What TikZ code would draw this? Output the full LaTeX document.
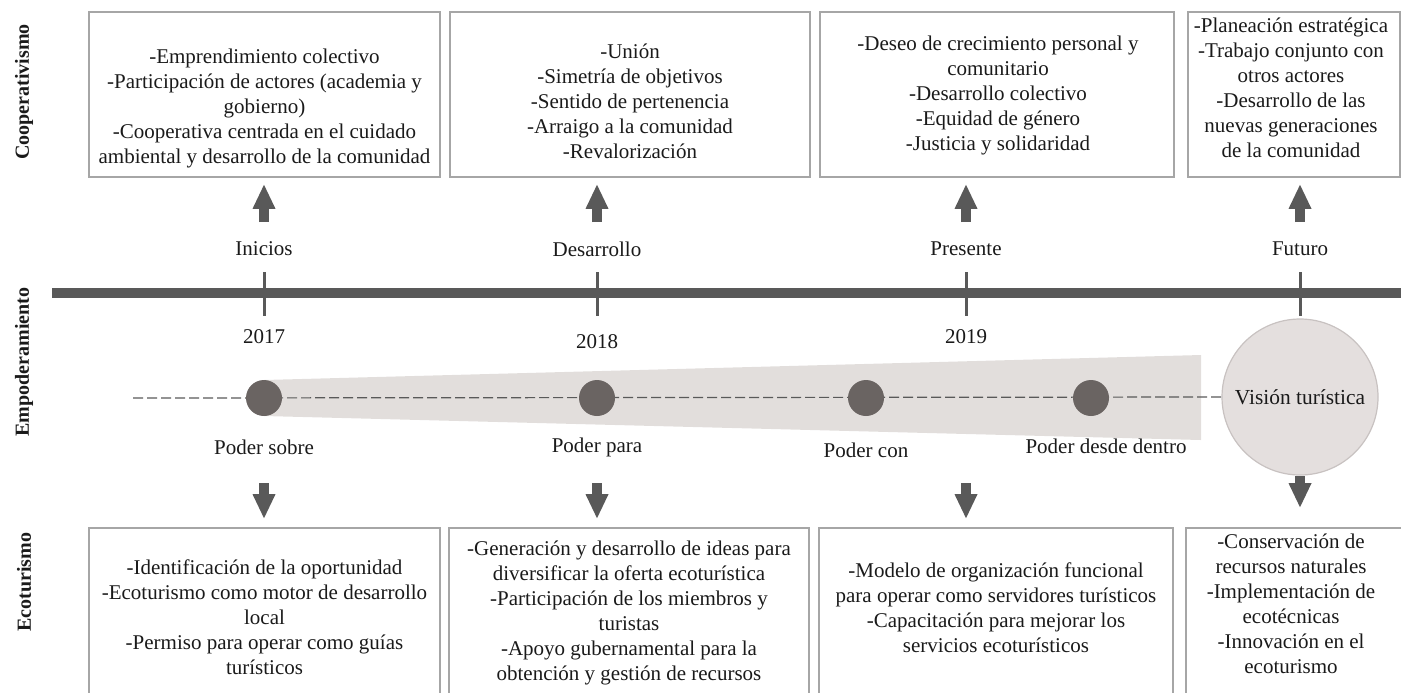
\documentclass[tikz,border=0pt]{standalone}
\usepackage{fontspec}
\setmainfont{Liberation Serif}
\usetikzlibrary{arrows.meta}

\definecolor{linegray}{HTML}{595959}
\definecolor{dotgray}{HTML}{6A6462}
\definecolor{boxgray}{HTML}{A6A6A6}
\definecolor{fanfill}{HTML}{E2DEDC}
\definecolor{visfill}{HTML}{E4DFDE}
\definecolor{visdraw}{HTML}{C8C2C1}
\definecolor{txtcol}{HTML}{1A1A1A}

\tikzset{
  cell/.style={draw=boxgray, line width=0.8pt, inner sep=0pt, minimum width=#1},
  topcell/.style={cell=#1, minimum height=82.5pt},
  lowcell/.style={cell=#1, minimum height=86pt},
  txt/.style={align=center, inner sep=0pt, text=txtcol, font=\fontsize{10.5}{12.5}\selectfont},
  rowlbl/.style={rotate=90, inner sep=0pt, text=txtcol, font=\fontsize{10}{12}\selectfont\bfseries},
  timeline/.style={draw=linegray, line width=5pt},
  tickmark/.style={draw=linegray, line width=1.5pt},
  blockarrow/.style={draw=linegray, line width=5pt, -{Triangle[width=11.5pt, length=12pt, line width=0pt]}},
  dashline/.style={draw=linegray, line width=0.6pt, dash pattern=on 5pt off 2pt},
  dot/.style={circle, fill=dotgray, minimum size=18pt, inner sep=0pt},
  vision/.style={circle, fill=visfill, draw=visdraw, line width=0.6pt, minimum size=78pt, inner sep=0pt,
    text=txtcol, font=\fontsize{10.7}{12.5}\selectfont}
}

\begin{document}
\begin{tikzpicture}[x=0.5pt, y=-0.5pt]
        \clip (0,0) rectangle (1401,692);

        % row titles
        \node[rowlbl] (lcoop) at (24,92) {Cooperativismo};
        \node[rowlbl] (lemp) at (24,362) {Empoderamiento};
        \node[rowlbl] (leco) at (24,582) {Ecoturismo};

        % Cooperativismo boxes
        \node[topcell=175.5pt] (c1) at (264.5,94.5) {};
        \node[topcell=180pt] (c2) at (630,94.5) {};
        \node[topcell=177pt] (c3) at (997,94.5) {};
        \node[topcell=106pt] (c4) at (1294,94.5) {};
        \node[txt] (c1t) at (264.5,108) {-Emprendimiento colectivo\\-Participación de actores (academia y\\gobierno)\\-Cooperativa centrada en el cuidado\\ambiental y desarrollo de la comunidad};
        \node[txt] (c2t) at (630,101.5) {-Unión\\-Simetría de objetivos\\-Sentido de pertenencia\\-Arraigo a la comunidad\\-Revalorización};
        \node[txt] (c3t) at (998,95.5) {-Deseo de crecimiento personal y\\comunitario\\-Desarrollo colectivo\\-Equidad de género\\-Justicia y solidaridad};
        \node[txt] (c4t) at (1291,87.5) {-Planeación estratégica\\-Trabajo conjunto con\\otros actores\\-Desarrollo de las\\nuevas generaciones\\de la comunidad};

        % timeline
        \coordinate (tl0) at (52,293);
        \coordinate (tl1) at (1401,293);
        \draw[timeline] (tl0) -- (tl1);
        \foreach \tx/\tn in {264/1,597/2,966/3,1300/4}
          \draw[tickmark] (\tx,272) coordinate (k\tn) -- (\tx,316);

        \node[txt] (inicios) at (264,249) {Inicios};
        \node[txt] (desarrollo) at (597,249) {Desarrollo};
        \node[txt] (presente) at (966,249) {Presente};
        \node[txt] (futuro) at (1300,249) {Futuro};
        \node[txt] (y2017) at (264,337) {2017};
        \node[txt] (y2018) at (597,342) {2018};
        \node[txt] (y2019) at (966,337) {2019};

        % arrows up to the boxes
        \foreach \ux/\ub in {264/c1,597/c2,966/c3,1300/c4}
          \draw[blockarrow, shorten >=3.5pt] (\ux,222) -- (\ux,222 |- \ub.south);

        % Empoderamiento
        \fill[fanfill] (264,380) -- (1201,355) -- (1201,440) -- (264,416) -- cycle;% widening band
        \node[vision] (vis) at (1300,397) {Visión turística};
        \coordinate (dstart) at (133,398);
        \draw[dashline] (dstart) -- (vis.west);
        \foreach \dx/\dn in {264/1,597/2,866/3,1091/4}
          \node[dot] (d\dn) at (\dx,398) {};

        \node[txt] (psobre) at (264,447) {Poder sobre};
        \node[txt] (ppara) at (597,447) {Poder para};
        \node[txt] (pcon) at (866,450) {Poder con};
        \node[txt] (pdentro) at (1106,446) {Poder desde dentro};

        % Ecoturismo boxes
        \node[lowcell=175.5pt] (e1) at (264.5,614) {};
        \node[lowcell=180pt] (e2) at (629,614) {};
        \node[lowcell=177pt] (e3) at (996,614) {};
        \node[lowcell=112pt] (e4) at (1298,614) {};
        \node[txt] (e1t) at (264.5,617) {-Identificación de la oportunidad\\-Ecoturismo como motor de desarrollo\\local\\-Permiso para operar como guías\\turísticos};
        \node[txt] (e2t) at (629,612.5) {-Generación y desarrollo de ideas para\\diversificar la oferta ecoturística\\-Participación de los miembros y\\turistas\\-Apoyo gubernamental para la\\obtención y gestión de recursos};
        \node[txt] (e3t) at (996,607.5) {-Modelo de organización funcional\\para operar como servidores turísticos\\-Capacitación para mejorar los\\servicios ecoturísticos};
        \node[txt] (e4t) at (1291,604) {-Conservación de\\recursos naturales\\-Implementación de\\ecotécnicas\\-Innovación en el\\ecoturismo};

        % arrows down to the boxes
        \foreach \ax/\ab in {264/e1,597/e2,966/e3}
          \draw[blockarrow, shorten >=4.5pt] (\ax,483) -- (\ax,483 |- \ab.north);
        \draw[blockarrow, shorten >=10pt] (vis.south) -- (vis.south |- e4.north);
\end{tikzpicture}
\end{document}
